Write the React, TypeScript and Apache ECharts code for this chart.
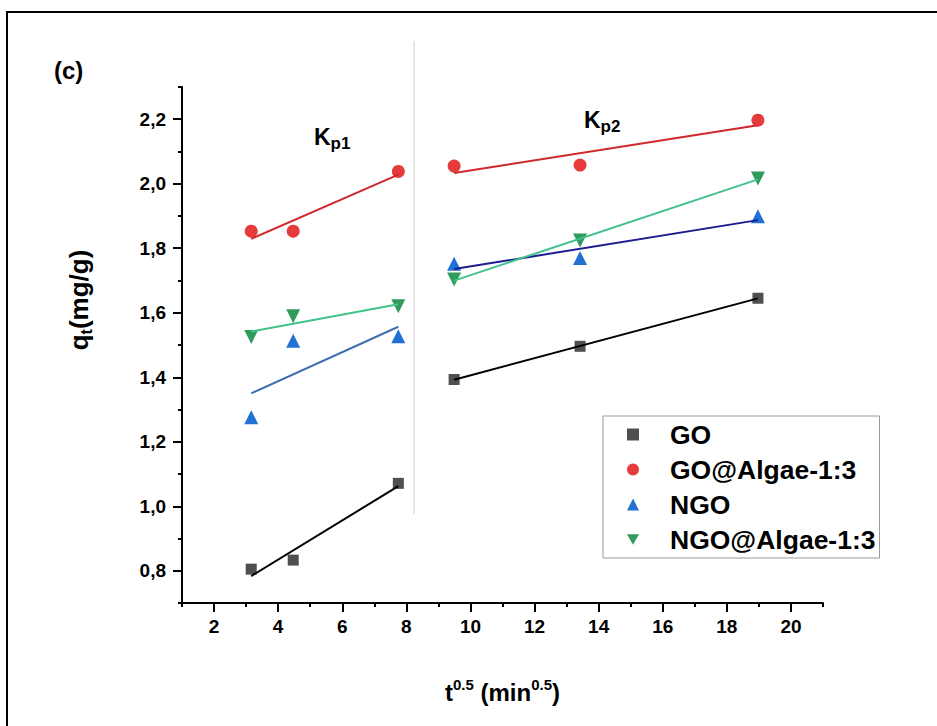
import React, { useEffect, useRef } from "react";
import * as echarts from "echarts";

// t^0.5 values (min^0.5) for sampling times of 10, 20, 60, 90, 180 and 360 min
const tSqrt = [3.16, 4.47, 7.75, 9.49, 13.42, 18.97];

// adsorbed amount q_t (mg/g)
const goValues = [0.805, 0.833, 1.071, 1.393, 1.496, 1.645];
const goAlgaeValues = [1.853, 1.853, 2.038, 2.055, 2.058, 2.197];
const ngoValues = [1.276, 1.513, 1.527, 1.752, 1.77, 1.899];
const ngoAlgaeValues = [1.525, 1.589, 1.62, 1.703, 1.824, 2.016];

const seriesNames = ["GO", "GO@Algae-1:3", "NGO", "NGO@Algae-1:3"];

// the two intra-particle diffusion stages (indices into tSqrt)
const stage1 = [0, 1, 2];
const stage2 = [3, 4, 5];

// axis ticks
const xMajorTicks = [2, 4, 6, 8, 10, 12, 14, 16, 18, 20];
const xMinorTicks = [1, 3, 5, 7, 9, 11, 13, 15, 17, 19, 21];
const yMajorTicks = [0.8, 1.0, 1.2, 1.4, 1.6, 1.8, 2.0, 2.2];
const yMinorTicks = [0.7, 0.9, 1.1, 1.3, 1.5, 1.7, 1.9, 2.1, 2.3];

const FONT = "'Liberation Sans', Arial, Helvetica, sans-serif";
const DOWN_TRIANGLE = "path://M0,0L20,0L10,17.3Z";

const styles = [
  { symbol: "rect", size: 11, color: "#4f4f4f", lines: ["#000000", "#000000"] },
  { symbol: "circle", size: 13, color: "#e63b3b", lines: ["#d0282c", "#d0282c"] },
  { symbol: "triangle", size: 14, color: "#2170d4", lines: ["#3f6fae", "#1c1c8f"] },
  { symbol: DOWN_TRIANGLE, size: 14, color: "#2f9c5e", lines: ["#40c38a", "#40c38a"] },
];

// least-squares straight line through the selected points, from first to last x
function linearFit(xs: number[], ys: number[]): number[][] {
  const n = xs.length;
  const mx = xs.reduce((s, v) => s + v, 0) / n;
  const my = ys.reduce((s, v) => s + v, 0) / n;
  let sxy = 0;
  let sxx = 0;
  for (let i = 0; i < n; i++) {
    sxy += (xs[i] - mx) * (ys[i] - my);
    sxx += (xs[i] - mx) * (xs[i] - mx);
  }
  const b = sxy / sxx;
  const a = my - b * mx;
  return [
    [xs[0], a + b * xs[0]],
    [xs[n - 1], a + b * xs[n - 1]],
  ];
}

const boldFont = (px: number) => `bold ${px}px ${FONT}`;

export default function App() {
  const ref = useRef<HTMLDivElement>(null);

  useEffect(() => {
    if (!ref.current) return;
    const chart = echarts.init(ref.current, null, { renderer: "svg" });

    const allValues = [goValues, goAlgaeValues, ngoValues, ngoAlgaeValues];
    const series: any[] = [];

    allValues.forEach((vals, k) => {
      const st = styles[k];
      series.push({
        name: seriesNames[k],
        type: "scatter",
        xAxisIndex: 0,
        yAxisIndex: 0,
        symbol: st.symbol,
        symbolSize: st.size,
        itemStyle: { color: st.color, opacity: 1 },
        data: tSqrt.map((x, i) => [x, vals[i]]),
        z: 3,
      });
      [stage1, stage2].forEach((idx, s) => {
        series.push({
          name: seriesNames[k] + " fit " + (s + 1),
          type: "line",
          xAxisIndex: 0,
          yAxisIndex: 0,
          symbol: "none",
          silent: true,
          lineStyle: { color: st.lines[s], width: 2 },
          data: linearFit(
            idx.map((i) => tSqrt[i]),
            idx.map((i) => vals[i])
          ),
          z: 4,
        });
      });
    });

    const axisLineStyle = { color: "#000", width: 2 };

    const kLabel = (sub: string, x: number, y: number) => ({
      type: "text",
      x,
      y,
      style: {
        text: `{k|K}{s|${sub}}`,
        verticalAlign: "middle",
        rich: {
          k: { font: boldFont(23), fill: "#000", lineHeight: 30 },
          s: { font: boldFont(17), fill: "#000", verticalAlign: "bottom", lineHeight: 17 },
        },
      },
    });

    chart.setOption({
      animation: false,
      backgroundColor: "#ffffff",
      textStyle: { fontFamily: FONT },
      grid: { left: 182, top: 87, right: 114, bottom: 123, containLabel: false },
      xAxis: [
        {
          type: "value",
          min: 1,
          max: 21,
          position: "bottom",
          axisLine: { show: true, onZero: false, lineStyle: axisLineStyle },
          axisTick: { show: true, customValues: xMajorTicks, length: 9, lineStyle: axisLineStyle },
          axisLabel: {
            customValues: xMajorTicks,
            margin: 14,
            fontSize: 19,
            fontWeight: "bold",
            color: "#000",
            fontFamily: FONT,
          },
          splitLine: { show: false },
          name: "{a|t}{sup|0.5}{a| (min}{sup|0.5}{a|)}",
          nameLocation: "middle",
          nameGap: 74,
          nameTextStyle: {
            rich: {
              a: { fontSize: 24, fontWeight: "bold", color: "#000", fontFamily: FONT, lineHeight: 30 },
              sup: { fontSize: 15, fontWeight: "bold", color: "#000", fontFamily: FONT, verticalAlign: "top", lineHeight: 17 },
            },
          },
        },
        {
          type: "value",
          min: 1,
          max: 21,
          position: "bottom",
          axisLine: { show: false, onZero: false },
          axisTick: { show: true, customValues: xMinorTicks, length: 4, lineStyle: axisLineStyle },
          axisLabel: { show: false },
          splitLine: { show: false },
        },
      ],
      yAxis: [
        {
          type: "value",
          min: 0.7,
          max: 2.3,
          position: "left",
          axisLine: { show: true, onZero: false, lineStyle: axisLineStyle },
          axisTick: { show: true, customValues: yMajorTicks, length: 9, lineStyle: axisLineStyle },
          axisLabel: {
            customValues: yMajorTicks,
            margin: 16,
            fontSize: 19,
            fontWeight: "bold",
            color: "#000",
            fontFamily: FONT,
            formatter: (v: number) => v.toFixed(1).replace(".", ","),
          },
          splitLine: { show: false },
          name: "{a|q}{sub|t}{a|(mg/g)}",
          nameLocation: "middle",
          nameRotate: 90,
          nameGap: 88,
          nameTextStyle: {
            padding: [0, 0, 0, 90],
            rich: {
              a: { fontSize: 26, fontWeight: "bold", color: "#000", fontFamily: FONT, lineHeight: 30 },
              sub: { fontSize: 16, fontWeight: "bold", color: "#000", fontFamily: FONT, verticalAlign: "bottom", lineHeight: 17 },
            },
          },
        },
        {
          type: "value",
          min: 0.7,
          max: 2.3,
          position: "left",
          offset: 0,
          axisLine: { show: false, onZero: false },
          axisTick: { show: true, customValues: yMinorTicks, length: 4, lineStyle: axisLineStyle },
          axisLabel: { show: false },
          splitLine: { show: false },
        },
      ],
      legend: {
        data: seriesNames,
        orient: "vertical",
        left: 603,
        top: 416,
        itemWidth: 12,
        itemHeight: 12,
        itemGap: 8,
        padding: [5, 4, 5, 24],
        borderColor: "#999",
        borderWidth: 1,
        backgroundColor: "#fff",
        selectedMode: false,
        textStyle: {
          fontSize: 26.5,
          fontWeight: "bold",
          color: "#000",
          fontFamily: FONT,
          lineHeight: 26,
          padding: [0, 0, 0, 26],
        },
      },
      graphic: [
        {
          type: "rect",
          shape: { x: 7, y: 12, width: 1000, height: 800 },
          style: { fill: "none", stroke: "#000", lineWidth: 2 },
          silent: true,
        },
        {
          type: "line",
          shape: { x1: 414, y1: 41, x2: 414, y2: 514 },
          style: { stroke: "#d0d0d0", lineWidth: 1 },
          silent: true,
        },
        {
          type: "text",
          x: 54,
          y: 70,
          style: {
            text: "(c)",
            font: boldFont(24),
            fill: "#000",
            verticalAlign: "middle",
          },
        },
        kLabel("p1", 314, 137),
        kLabel("p2", 584, 120),
      ],
      series,
    });

    return () => chart.dispose();
  }, []);

  return (
    <div
      ref={ref}
      style={{ position: "fixed", left: 0, top: 0, width: 937, height: 726, background: "#fff" }}
    />
  );
}
